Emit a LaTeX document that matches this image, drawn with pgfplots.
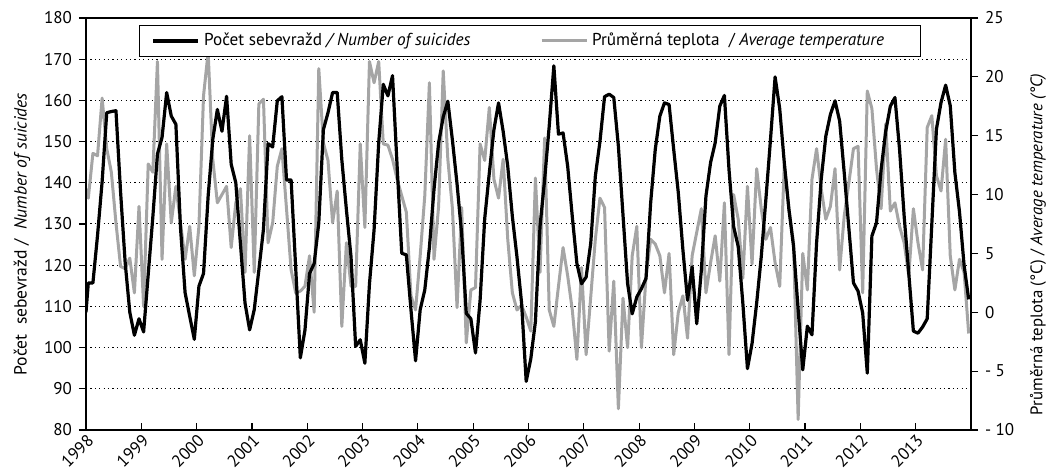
\documentclass[border=0pt]{standalone}
\usepackage{fontspec}
\setmainfont{PT Sans}
\usepackage{pgfplots}
\pgfplotsset{compat=1.18}
\definecolor{tgray}{RGB}{165,165,165}
\pgfplotstableread{
x y
-0.5 108.6
0 115.7
1 115.7
2 127.2
3 140.3
4 157
5 157.3
6 157.5
7 137.8
8 120.6
9 108.6
10 103
11 107
12 103.8
13 117.8
14 131.7
15 147
16 151
17 161.9
18 156.2
19 154.2
20 129.1
21 113.3
22 107.6
23 102
24 114.9
25 118
26 136.8
27 150.5
28 157.8
29 152.5
30 161
31 144.5
32 140
33 125.3
34 110.8
35 104.3
36 109.2
37 118.8
38 128.7
39 149.5
40 148.7
41 159.9
42 160.9
43 140.7
44 140.7
45 119.2
46 97.5
47 104.2
48 118
49 120.4
50 130.2
51 152.9
52 157
53 161.9
54 161.9
55 145.6
56 133.4
57 122
58 100.3
59 101.9
60 96.2
61 115.5
62 128.6
63 149.7
64 163.9
65 161.1
66 166
67 144
68 122.9
69 122.5
70 109.2
71 96.8
72 109.2
73 114
74 124.3
75 138.4
76 149.7
77 156
78 159.8
79 150.3
80 139.7
81 127.6
82 108.3
83 107
84 98.7
85 111.5
86 131.3
87 142.4
88 152.9
89 159.4
90 152.5
91 144
92 131.8
93 122
94 110.8
95 91.8
96 97.3
97 106.3
98 129.4
99 140.8
100 153.8
101 168.4
102 151.8
103 152.1
104 144
105 131.8
106 120.4
107 115.5
108 117.1
109 125.3
110 141.6
111 150
112 160.9
113 161.5
114 160.7
115 148.9
116 132.2
117 115.5
118 108.2
119 112.3
120 114.3
121 116.8
122 135.1
123 148.1
124 156.2
125 159.4
126 159
127 148.1
128 137.6
129 123.7
130 111.5
131 119.6
132 105.8
133 118.8
134 136.8
135 144.9
136 149.7
137 158.6
138 161.2
139 143.2
140 129.4
141 124.5
142 110.8
143 94.9
144 101
145 110.8
146 122.1
147 136
148 150.5
149 165.7
150 158
151 144.8
152 133.5
153 124.6
154 109.2
155 94.6
156 105.2
157 103.1
158 125.4
159 140.8
160 151.3
161 156.6
162 159.9
163 155
164 142.4
165 129
166 115.7
167 113.7
168 108.4
169 93.8
170 127.1
171 130.3
172 143.2
173 152.5
174 158.6
175 160.7
176 148.1
177 131.9
178 118
179 104
180 103.5
181 105
182 107
183 130
184 153
185 159.5
186 163.7
187 158.7
188 142.5
189 133
190 120
191 111.7
}\suicides
\pgfplotstableread{
x t
-0.5 10.5
0 9.7
1 13.5
2 13.3
3 18.2
4 13.9
5 11.9
6 7.6
7 3.9
8 3.7
9 4.6
10 1.65
11 9.0
12 0.5
13 12.6
14 11.9
15 21.3
16 4.5
17 14.3
18 7.6
19 10.7
20 7.6
21 4.5
22 7.3
23 3.1
24 7.3
25 18.4
26 22.1
27 13
28 9.3
29 10
30 10.7
31 5.5
32 9.3
33 10.5
34 3.4
35 15
36 3.4
37 17.7
38 18.1
39 5.9
40 7.6
41 12.4
42 13.9
43 8.8
44 3.6
45 1.65
46 1.8
47 2.2
48 4.8
49 0
50 20.7
51 14.4
52 12.9
53 7.6
54 10.3
55 -1.2
56 5.9
57 2.2
58 2.2
59 14.3
60 7.2
61 21.3
62 19.5
63 21.3
64 14.3
65 14.2
66 13
67 11.3
68 9.9
69 8.5
70 1.4
71 0.2
72 4.8
73 9.9
74 19.5
75 4.5
76 9
77 20.5
78 13
79 8.8
80 0.4
81 8.9
82 -2.6
83 1.9
84 2.1
85 14.3
86 12.9
87 17.4
88 11.3
89 9.7
90 13
91 6.2
92 1.65
93 0.2
94 0.6
95 -0.4
96 -1.6
97 11.4
98 3.4
99 14.8
100 0.2
101 -1.2
102 2.2
103 5.5
104 3.1
105 0.2
106 -4
107 3.8
108 -3.6
109 1.3
110 6.2
111 9.7
112 8.9
113 -3.3
114 2.65
115 -8.2
116 1.2
117 -3
118 4.8
119 7.3
120 -3
121 3.1
122 6.2
123 5.8
124 4.8
125 1.65
126 5
127 -3.6
128 0
129 1.4
130 -2.2
131 4.8
132 6.8
133 8.8
134 1.65
135 4.2
136 6.5
137 2.65
138 9.3
139 -3.6
140 10
141 7.9
142 2.9
143 10.7
144 4.1
145 12.2
146 8.8
147 6.2
148 7.2
149 4.2
150 2.2
151 12.6
152 8.8
153 5.9
154 -9.1
155 5.0
156 1.9
157 11.3
158 13.9
159 10.5
160 7.9
161 9.0
162 12.2
163 3.6
164 8.2
165 11
166 13.9
167 14.1
168 1.65
169 18.8
170 17.3
171 12.2
172 8.8
173 16
174 8.6
175 9.3
176 7.3
177 5.9
178 3.1
179 8.8
180 5.9
181 3.6
182 15.7
183 16.7
184 11.6
185 10.3
186 14.7
187 4.8
188 1.9
189 4.5
190 3.4
191 -1.8
}\temperature
\begin{document}
\begin{tikzpicture}
\pgfplotsset{
  every axis/.append style={
    scale only axis, width=442.5pt, height=206pt,
    xmin=-0.5, xmax=191.5,
    tick label style={font=\fontsize{8.5}{10}\selectfont},
    label style={font=\fontsize{8.8}{11}\selectfont},
    axis line style={line width=0.75pt},
    every tick/.style={black, line width=0.6pt},
    major tick length=3.5pt,
  }
}
\begin{axis}[
  axis x line=none, axis y line*=right,
  ymin=-10, ymax=25,
  ytick={-10,-5,0,5,10,15,20,25},
  yticklabels={- 10,- 5,0,5,10,15,20,25},
  ytick align=outside,
  extra y ticks={-6.5,-3,0.5,4,7.5,11,14.5,18,21.5},
  extra y tick labels={},
  extra y tick style={grid=major, major tick length=0pt},
  major grid style={black, line width=0.5pt, dash pattern=on 0.6pt off 1.6pt},
  ylabel={Průměrná teplota (°C) / \textit{Average temperature (°C)}},
  ylabel style={at={(ticklabel cs:0.45)}, font=\fontsize{8.4}{10}\selectfont},
  ylabel shift=-2.5pt,
]
\addplot[tgray, line width=1.5pt, line join=round] table[x=x, y=t] {\temperature};
\end{axis}
\begin{axis}[
  name=main,
  ymin=80, ymax=180,
  ytick={80,90,...,180},
  yticklabels={80,90,100,110,120,130,140,150,160,170,180},
  ytick pos=left, ytick align=outside,
  xtick={-0.5,11.5,23.5,35.5,47.5,59.5,71.5,83.5,95.5,107.5,119.5,131.5,143.5,155.5,167.5,179.5},
  xticklabels={1998,1999,2000,2001,2002,2003,2004,2005,2006,2007,2008,2009,2010,2011,2012,2013},
  xtick pos=bottom, xtick align=inside,
  xticklabel style={rotate=45, anchor=north east, inner sep=1pt},
  ylabel={Počet\ \ sebevražd / \ \textit{Number of suicides}},
  ylabel style={at={(ticklabel cs:0.475)}},
  legend style={at={(0.5,1)}, anchor=north, yshift=-3.5pt, xshift=0.75pt,
    draw=black, line width=0.5pt, font=\fontsize{8.6}{10}\selectfont,
    legend columns=2, inner xsep=6pt, inner ysep=1.8pt,
    /tikz/every even column/.append style={column sep=0pt}},
  legend cell align=left,
  legend image code/.code={\draw[#1] (0pt,0pt) -- (22.5pt,0pt);},
]
\addplot[black, line width=1.6pt, line join=round] table[x=x, y=y] {\suicides};
\addlegendentry{\makebox[166pt][l]{Počet sebevražd \textit{/ Number of suicides}}}
\addlegendimage{tgray, line width=1.5pt}
\addlegendentry{\makebox[156pt][l]{Průměrná teplota \ / \textit{Average temperature}}}
\end{axis}
\pgfresetboundingbox
\path ([shift={(-43pt,-23pt)}]main.south west) rectangle ([shift={(37.5pt,9pt)}]main.north east);
\end{tikzpicture}
\end{document}
